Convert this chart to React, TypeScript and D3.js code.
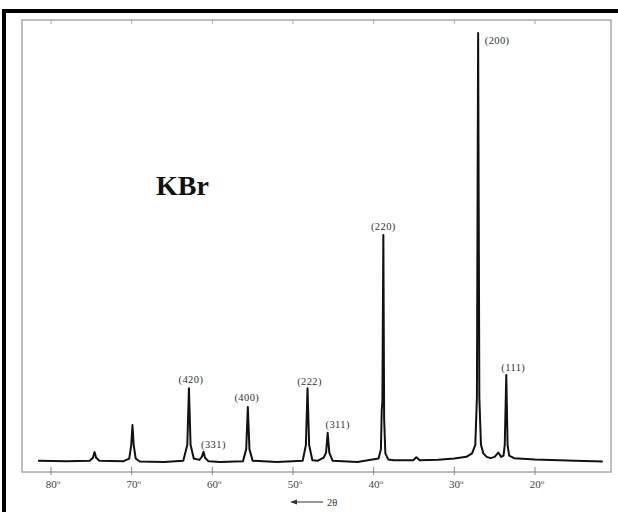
import React from "react";
import * as d3 from "d3";

const traceTheta = [
  81.6, 78, 75.2, 74.8, 74.6, 74.4, 74.0, 71, 70.3, 70.05, 69.9, 69.75, 69.5, 69,
  66, 63.6, 63.1, 62.9, 62.7, 62.3, 61.6, 61.3, 61.1, 60.9, 60.5, 59,
  56.2, 55.8, 55.6, 55.4, 55.0, 52, 48.8, 48.4, 48.2, 48.0, 47.6, 46.9,
  46.2, 45.9, 45.7, 45.5, 45.1, 42, 39.4, 39.1, 39.0, 38.92, 38.8, 38.7, 38.55, 38.2,
  37.5, 35.1, 34.7, 34.3, 32, 30, 28.5, 27.8, 27.4, 27.2, 27.05, 26.9, 26.7,
  26.4, 26.0, 25.5, 25.0, 24.55, 24.2, 23.9, 23.75, 23.56, 23.4, 23.2, 22.6,
  20, 15, 11.6,
];
const traceIntensity = [
  0.3, 0.2, 0.3, 1.0, 2.3, 1.0, 0.3, 0.2, 0.8, 4, 8.6, 4, 0.8, 0.1,
  0, 0.3, 4, 17.2, 4, 0.8, 0.5, 1.2, 2.4, 1.0, 0.2, 0,
  0.2, 3, 12.8, 3, 0.3, 0, 0.3, 4, 17.2, 4, 0.4, 0.3,
  1.0, 2.2, 6.8, 2.2, 0.3, 0, 0.8, 3, 12, 14, 52.9, 10, 2, 0.6,
  0.4, 0.4, 1.1, 0.4, 0.5, 0.8, 1.2, 2.0, 4, 15, 100, 15, 4,
  2, 1.2, 0.9, 1.2, 2.2, 1.2, 1.5, 4, 20.3, 4, 1.5, 0.9,
  0.6, 0.3, 0.1,
];

// Indexed reflections
const peakLabels = ["(200)", "(111)", "(220)", "(420)", "(331)", "(400)", "(222)", "(311)"];
const peakTheta = [27.05, 23.56, 38.8, 62.9, 61.1, 55.6, 48.2, 45.7];
const peakIntensity = [100, 20.3, 52.9, 17.2, 2.4, 12.8, 17.2, 6.8];

const tickValues = [80, 70, 60, 50, 40, 30, 20];
const tickLabels = ["80", "70", "60", "50", "40", "30", "20"];
const sampleName = "KBr";

// label offsets relative to the peak apex (layout only)
const labelDx = [19, 7, 0, 2, 10, -1, 2, 10];
const labelDy = [11, -4, -5, -5, -4, -6, -3, -5];

export default function App() {
  const x = d3.scaleLinear().domain([80, 20]).range([51, 535]);
  const y = d3.scaleLinear().domain([0, 100]).range([462, 33]);
  const pts: [number, number][] = traceTheta.map((t, i) => [t, traceIntensity[i]]);
  const line = d3
    .line<[number, number]>()
    .x((d) => x(d[0]))
    .y((d) => y(d[1]))
    .curve(d3.curveLinear);

  const frame = { l: 22, r: 611, t: 20, b: 472 };
  const serif = "'Liberation Serif', 'DejaVu Serif', serif";

  return (
    <div style={{ position: "fixed", left: 0, top: 0, background: "#fff" }}>
      <svg width={618} height={512} style={{ display: "block" }}>
        <rect x={0} y={0} width={618} height={512} fill="#fff" />
        {/* outer black border */}
        <path d="M4,512 V11 H618" fill="none" stroke="#000" strokeWidth={4} />
        {/* inner frame */}
        <rect
          x={frame.l}
          y={frame.t}
          width={frame.r - frame.l}
          height={frame.b - frame.t}
          fill="none"
          stroke="#a8a8a8"
          strokeWidth={1.5}
        />
        {/* ticks */}
        {tickValues.map((v, i) => (
          <g key={v}>
            <line x1={x(v)} x2={x(v)} y1={frame.b - 5} y2={frame.b + 3} stroke="#888" strokeWidth={1} />
            <line x1={x(v)} x2={x(v)} y1={frame.t} y2={frame.t + 4} stroke="#aaa" strokeWidth={1} />
            <text
              x={x(v) + 2}
              y={488}
              textAnchor="middle"
              fontFamily={serif}
              fontSize={11}
              fill="#444"
            >
              {tickLabels[i]}
              <tspan fontSize={7} dy={-4}>o</tspan>
            </text>
          </g>
        ))}
        {/* direction arrow */}
        <line x1={292} x2={323} y1={502} y2={502} stroke="#333" strokeWidth={1} />
        <path d="M290,502 L297,499.5 L297,504.5 Z" fill="#333" />
        <text x={327} y={505.5} fontFamily={serif} fontSize={10.5} fill="#333">
          2θ
        </text>
        {/* trace */}
        <path d={line(pts) || ""} fill="none" stroke="#111" strokeWidth={2} strokeLinejoin="round" />
        {/* peak labels */}
        {peakLabels.map((lab, i) => (
          <text
            key={lab}
            x={x(peakTheta[i]) + labelDx[i]}
            y={y(peakIntensity[i]) + labelDy[i]}
            textAnchor="middle"
            fontFamily={serif}
            fontSize={10.5}
            letterSpacing={0.4}
            fill="#333"
          >
            {lab}
          </text>
        ))}
        {/* sample name */}
        <text x={156} y={195} fontFamily={serif} fontWeight="bold" fontSize={28} fill="#111">
          {sampleName}
        </text>
      </svg>
    </div>
  );
}
